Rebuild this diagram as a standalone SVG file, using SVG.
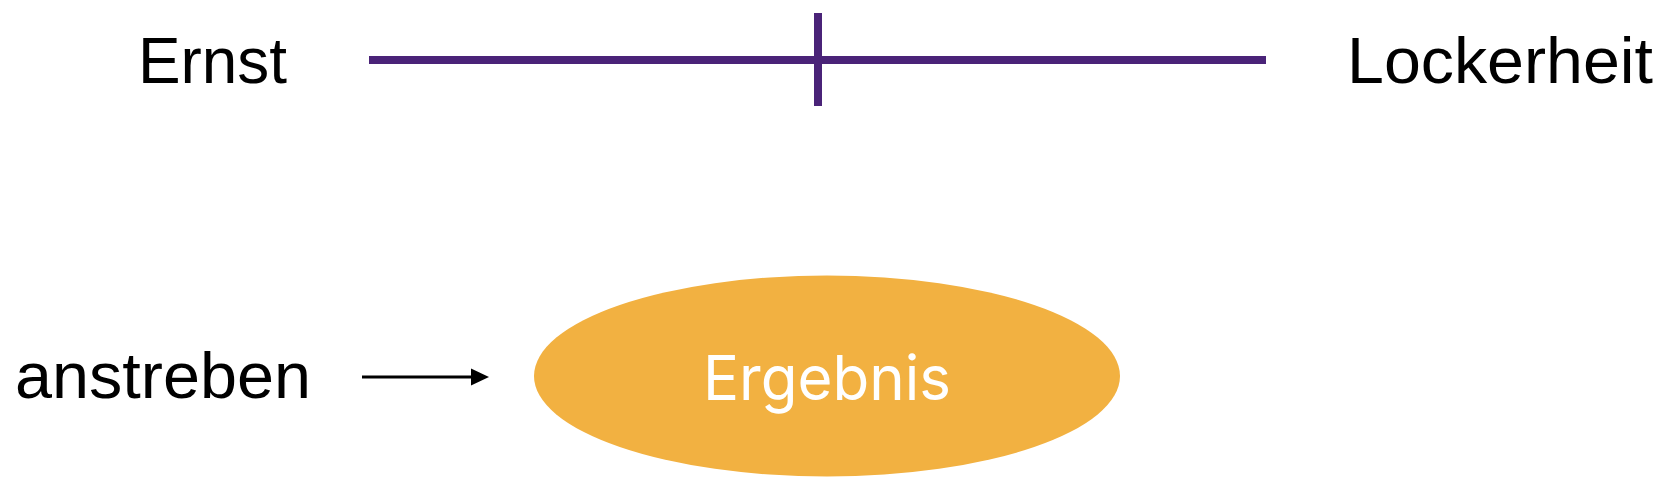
<svg xmlns="http://www.w3.org/2000/svg" width="1668" height="492" viewBox="0 0 1668 492">
  <defs>
    <marker id="arrow" markerWidth="18" markerHeight="18" refX="1" refY="9" orient="auto" markerUnits="userSpaceOnUse">
      <path d="M0,0.5 L18,9 L0,17.5 Z" fill="#000000"/>
    </marker>
    <style>
      .label { font-family: "Liberation Sans", Arial, sans-serif; font-size: 65px; fill: #000000; }
      .scale { stroke: #4a2378; stroke-width: 8; fill: none; }
      .node-text { font-family: Inter, "Noto Sans", sans-serif; font-size: 62px; fill: #ffffff; }
    </style>
  </defs>
  <rect width="1668" height="492" fill="#ffffff"/>
  <g id="scale">
    <line class="scale" x1="369" y1="60" x2="1266" y2="60"/>
    <line class="scale" x1="818" y1="13" x2="818" y2="106"/>
  </g>
  <g id="ernst">
    <text class="label" x="138" y="83" textLength="149" lengthAdjust="spacingAndGlyphs">Ernst</text>
  </g>
  <g id="lockerheit">
    <text class="label" x="1347" y="83" textLength="306" lengthAdjust="spacingAndGlyphs">Lockerheit</text>
  </g>
  <g id="anstreben">
    <text class="label" x="15" y="398" textLength="296" lengthAdjust="spacingAndGlyphs">anstreben</text>
  </g>
  <g id="ergebnis">
    <ellipse cx="827" cy="376" rx="293" ry="100.5" fill="#f2b141"/>
    <text class="node-text" x="827" y="400" text-anchor="middle" textLength="248" lengthAdjust="spacingAndGlyphs">Ergebnis</text>
  </g>
  <g id="connectors">
    <line x1="362" y1="377" x2="472" y2="377" stroke="#000000" stroke-width="3" marker-end="url(#arrow)"/>
  </g>
</svg>
